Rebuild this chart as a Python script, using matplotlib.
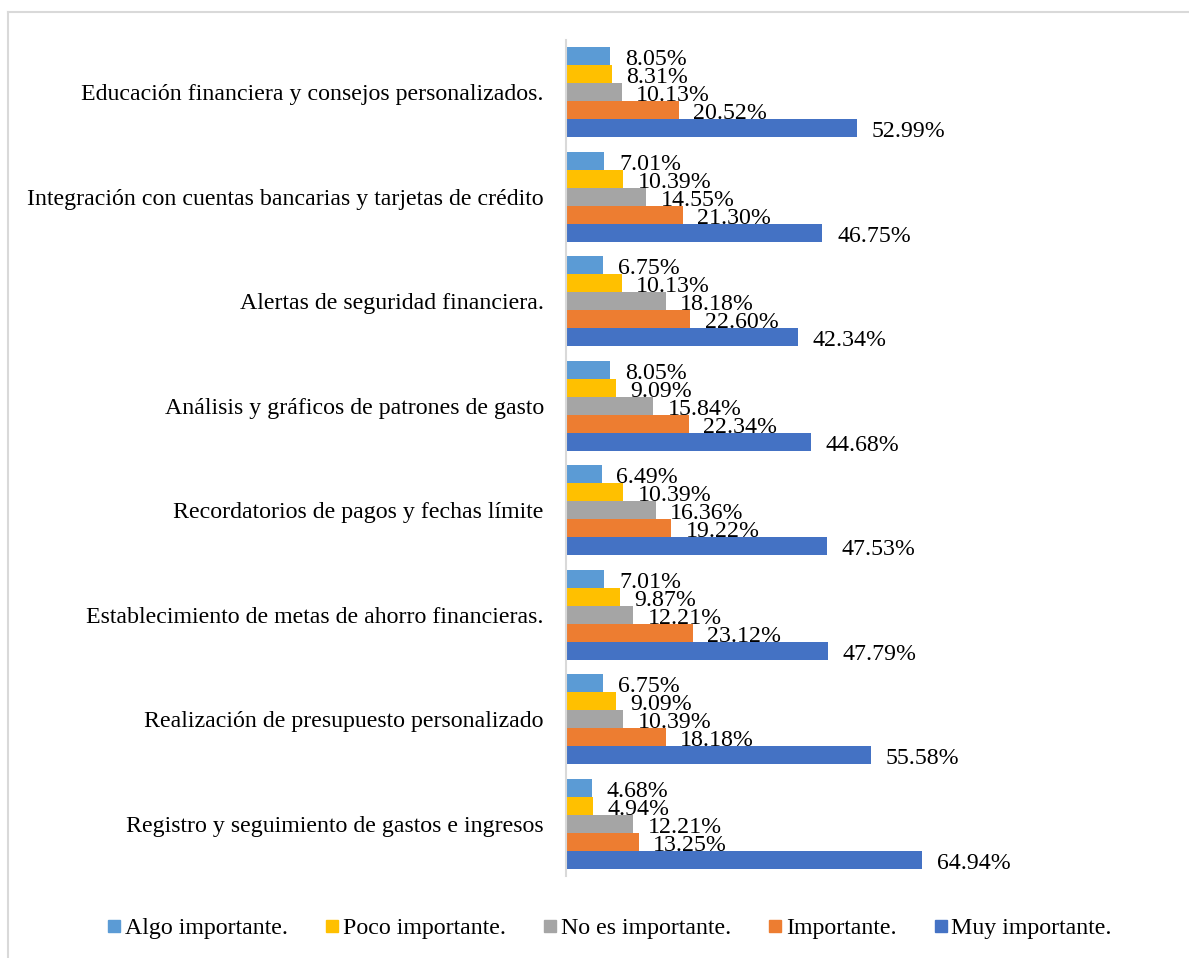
import numpy as np
import matplotlib
matplotlib.use('Agg')
import matplotlib.pyplot as plt
from matplotlib.lines import Line2D

plt.rcParams['font.family'] = ['Liberation Serif', 'DejaVu Serif']

# Categories, top to bottom as shown
categories = [
    'Educación financiera y consejos personalizados.',
    'Integración con cuentas bancarias y tarjetas de crédito',
    'Alertas de seguridad financiera.',
    'Análisis y gráficos de patrones de gasto',
    'Recordatorios de pagos y fechas límite',
    'Establecimiento de metas de ahorro financieras.',
    'Realización de presupuesto personalizado',
    'Registro y seguimiento de gastos e ingresos',
]

# Series values (percent), same order as categories
algo = [8.05, 7.01, 6.75, 8.05, 6.49, 7.01, 6.75, 4.68]
poco = [8.31, 10.39, 10.13, 9.09, 10.39, 9.87, 9.09, 4.94]
no_es = [10.13, 14.55, 18.18, 15.84, 16.36, 12.21, 10.39, 12.21]
importante = [20.52, 21.30, 22.60, 22.34, 19.22, 23.12, 18.18, 13.25]
muy = [52.99, 46.75, 42.34, 44.68, 47.53, 47.79, 55.58, 64.94]

series_names = ['Algo importante.', 'Poco importante.', 'No es importante.',
                'Importante.', 'Muy importante.']
series_vals = [algo, poco, no_es, importante, muy]
colors = ['#5B9BD5', '#FFC000', '#A5A5A5', '#ED7D31', '#4472C4']

fs = 17.2

fig = plt.figure(figsize=(11.89, 9.58), dpi=100)
ax = fig.add_axes([566 / 1189, 82 / 958, 384 / 1189, 836 / 958])

n = len(categories)
y = np.arange(n)[::-1]  # first category at top
h = 0.172

for i, (name, vals, col) in enumerate(zip(series_names, series_vals, colors)):
    pos = y + (2 - i) * h
    bars = ax.barh(pos, vals, height=h, color=col, label=name)
    for b, v in zip(bars, vals):
        ax.annotate(f'{v:.2f}%', (b.get_width(), b.get_y() + b.get_height() / 2),
                    xytext=(10.5, -2.5), textcoords='offset points',
                    ha='left', va='center', fontsize=fs, clip_on=False)

ax.set_xlim(0, 70)
ax.set_ylim(-0.5, n - 0.5)
ax.set_yticks(y)
ax.set_yticklabels(categories, fontsize=fs)
ax.tick_params(axis='y', length=0, pad=16)
ax.set_xticks([])
for s in ['top', 'right', 'bottom']:
    ax.spines[s].set_visible(False)
ax.spines['left'].set_color('#D9D9D9')
ax.spines['left'].set_linewidth(1.5)

handles = [Line2D([0], [0], marker='s', linestyle='none', markersize=9,
                  markerfacecolor=c, markeredgecolor=c) for c in colors]
fig.legend(handles, series_names, loc='center', bbox_to_anchor=(0.513, 0.031),
           ncol=5, frameon=False, fontsize=fs, handlelength=0.5,
           handletextpad=0.2, columnspacing=1.6)

# chart area border (top and left visible)
fig.add_artist(Line2D([8 / 1189, 1.0], [1 - 11.5 / 958, 1 - 11.5 / 958],
                      color='#D9D9D9', linewidth=1.5, transform=fig.transFigure))
fig.add_artist(Line2D([7.5 / 1189, 7.5 / 1189], [0, 1 - 11.5 / 958],
                      color='#D9D9D9', linewidth=1.5, transform=fig.transFigure))

fig.savefig('out.png', dpi=100)
